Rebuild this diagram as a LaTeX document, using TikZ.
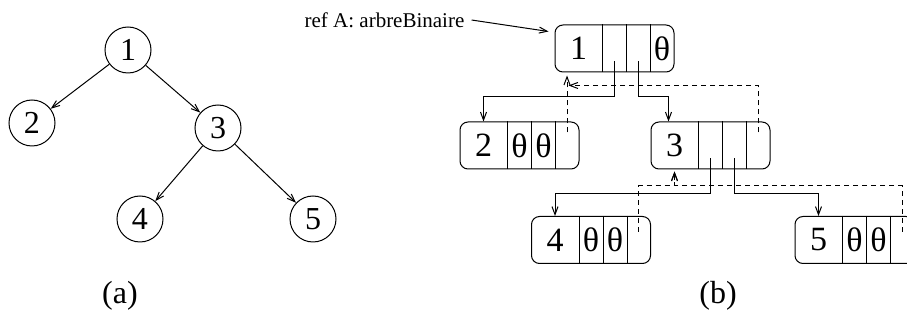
\documentclass[tikz,border=0pt]{standalone}
\usepackage{fontspec}
\setmainfont{Liberation Serif}
\usetikzlibrary{arrows.meta}

\begin{document}
\begin{tikzpicture}[
  x=0.5pt, y=-0.5pt,
  line width=0.5pt,
  circ/.style={draw, circle, minimum size=23pt, inner sep=0pt, font=\fontsize{16}{18}\selectfont},
  rec/.style={draw, rounded corners=4pt, minimum width=59.5pt, minimum height=23.5pt, inner sep=0pt},
  key/.style={font=\fontsize{17}{19}\selectfont, inner sep=0pt},
  nil/.style={font=\fontsize{17}{19}\selectfont, inner sep=0pt},
  ptr/.style={-{Straight Barb[length=4pt,width=3pt]}},
  back/.style={ptr, dash pattern=on 2.5pt off 2pt},
  lbl/.style={font=\fontsize{16}{19}\selectfont},
]
\clip (0,0) rectangle (907,320);

% (a) the tree
\node[circ] (c1) at (128,50)  {1};
\node[circ] (c2) at (32,123)  {2};
\node[circ] (c3) at (218,128) {3};
\node[circ] (c4) at (140,219) {4};
\node[circ] (c5) at (313,219) {5};
\foreach \p/\c in {c1/c2, c1/c3, c3/c4, c3/c5}
  \draw[ptr] (\p) -- (\c);

% (b) linked records
\foreach \n/\pos/\k in {r1/{614.5,48.5}/1, r2/{519.5,145.5}/2, r3/{710.5,145.5}/3,
                        r4/{591,240}/4, r5/{854.5,240}/5} {
  \node[rec] (\n) at (\pos) {};
  \node[key] (\n-key) at ([xshift=12pt]\n.west) {\k};
  \foreach \d in {24pt,36pt,48pt}
    \draw ([xshift=\d]\n.north west) -- ([xshift=\d]\n.south west);
}
\node[nil] (r1-nil) at ([xshift=53.75pt]r1.west) {θ};
\foreach \n in {r2,r4,r5} {
  \node[nil] (\n-l) at ([xshift=30pt]\n.west) {θ};
  \node[nil] (\n-r) at ([xshift=42pt]\n.west) {θ};
}

% child pointers
\draw[ptr] ([xshift=30pt,yshift=-6.5pt]r1.west) -- ++(0,35) -| ([xshift=12pt]r2.north west);
\draw[ptr] ([xshift=42pt,yshift=-6.5pt]r1.west) -- ++(0,35) -| ([xshift=9pt]r3.north west);
\draw[ptr] ([xshift=30pt,yshift=-6.5pt]r3.west) -- ++(0,35) -| ([xshift=12pt]r4.north west);
\draw[ptr] ([xshift=42pt,yshift=-6.5pt]r3.west) -- ++(0,35) -| ([xshift=12pt]r5.north west);

% parent pointers
\foreach \n in {r2,r3}
  \coordinate (\n-up) at ([xshift=53.75pt,yshift=-5.5pt]\n.north west);
\foreach \n in {r4,r5}
  \coordinate (\n-up) at ([xshift=53.75pt,yshift=-8pt]\n.north west);
\coordinate (r1-in) at ([yshift=-1.5pt]r1.south);
\draw[back] (r2-up) -- (r2-up |- r1-in);
\draw[back] (r3-up) |- ([xshift=7pt,yshift=-6.5pt]r1.south west);
\draw[back] (r4-up) -- ++(0,-46) -| ([xshift=12pt,yshift=-1pt]r3.south west);
\draw[back] (r5-up) -- ++(0,-46) -| ([xshift=12pt,yshift=-1pt]r3.south west);

% reference
\node[font=\fontsize{10.5}{12}\selectfont] (ref) at (384.5,20) {ref A: arbreBinaire};
\draw[ptr] (ref.east) -- ([xshift=-3pt,yshift=-3.5pt]r1.north west);

% captions
\node[lbl] (la) at (120,296) {(a)};
\node[lbl] (lb) at (718,296) {(b)};
\end{tikzpicture}
\end{document}
